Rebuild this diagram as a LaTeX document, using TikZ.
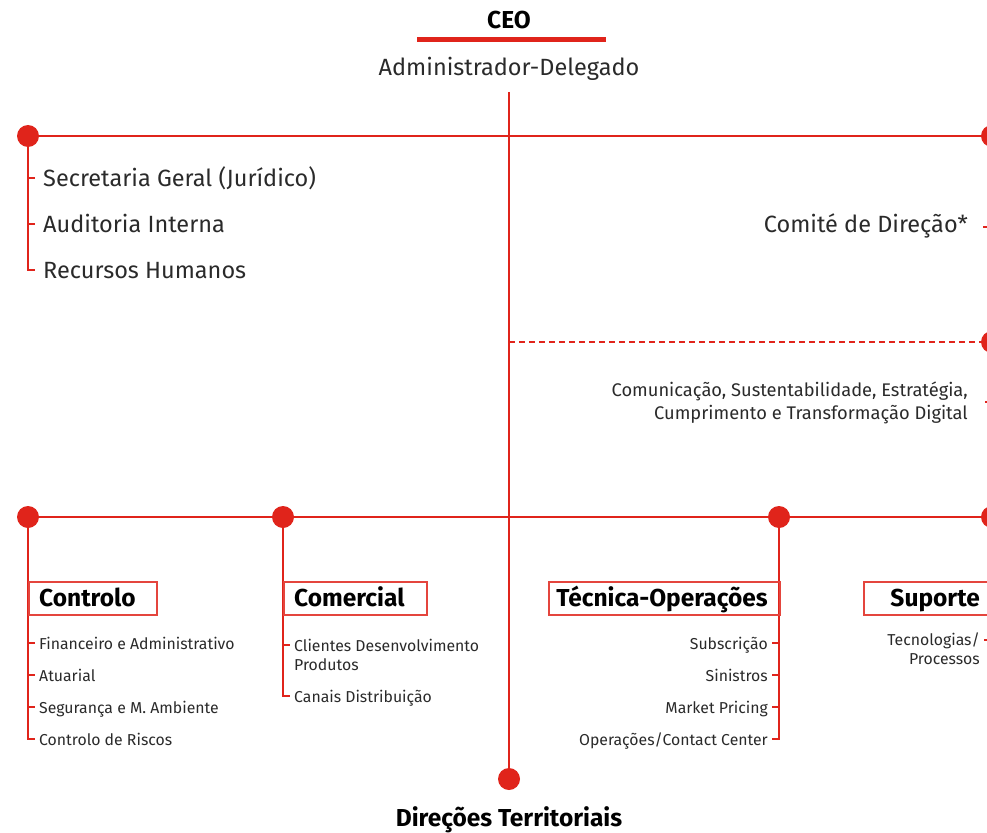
\documentclass[tikz,border=0pt]{standalone}
\usepackage{fontspec}
\setmainfont{Fira Sans}
\definecolor{ored}{HTML}{E0241B}
\definecolor{obox}{HTML}{E4453D}
\definecolor{otxt}{HTML}{2A2A2A}
\begin{document}
\begin{tikzpicture}[x=1pt,y=-1pt,
 ln/.style={ored, line width=1.3pt},
 dot/.style={circle, fill=ored, inner sep=0pt, minimum size=22pt},
 big/.style={font=\fontsize{23.5}{28}\selectfont, text=otxt, inner sep=0pt},
 small/.style={font=\fontsize{15.8}{19}\selectfont, text=otxt, inner sep=0pt, align=left},
 smallr/.style={font=\fontsize{15.8}{19}\selectfont, text=otxt, inner sep=0pt, align=right},
 comm/.style={font=\fontsize{18.3}{22}\selectfont, text=otxt, inner sep=0pt},
 head/.style={font=\bfseries\fontsize{24.5}{28}\selectfont, text=black, inner sep=0pt},
 hbox/.style={draw=obox, line width=1.5pt, inner sep=0pt, minimum height=33pt, anchor=north west}]
\useasboundingbox (0,0) rectangle (987,832);
\clip (0,0) rectangle (987,832);
% CEO
\node[head] (ceo) at (509,20) {CEO};
\fill[ored] (417,37.5) rectangle (606,42.5);
\node[big, anchor=mid] (adm) at (509,73) {Administrador-Delegado};
% main vertical
\coordinate (mtop) at (509,92);
\node[dot] (dbot) at (509,779) {};
\draw[ln] (mtop) -- (dbot);
\node[head, anchor=base] (dt) at (509,826) {Direções Territoriais};
% top row
\node[dot] (d1) at (28,136) {};
\node[dot] (d2) at (992,136) {};
\draw[ln] (d1) -- (d2);
\coordinate (c1) at (28,270);
\draw[ln] (d1) -- (c1) -- (35,270);
\draw[ln] (28,178) -- (35,178);
\draw[ln] (28,224) -- (35,224);
\node[big, anchor=mid west] (sg) at (43,184) {Secretaria Geral (Jurídico)};
\node[big, anchor=mid west] (ai) at (43,230) {Auditoria Interna};
\node[big, anchor=mid west] (rh) at (43,276) {Recursos Humanos};
\node[big, anchor=mid east] (cd) at (968,230) {Comité de Direção*};
\draw[ln] (983,227) -- (992,227);
% dashed
\coordinate (mdash) at (509,342);
\node[dot] (d3) at (992,342) {};
\draw[ln, dash pattern=on 6pt off 4pt] (mdash) -- (d3);
\node[comm, anchor=mid east] (com1) at (968,394) {Comunicação, Sustentabilidade, Estratégia,};
\node[comm, anchor=mid east] (com2) at (968,417) {Cumprimento e Transformação Digital};
\draw[ln] (985,402) -- (992,402);
% bottom row
\node[dot] (b1) at (28,517) {};
\node[dot] (b2) at (283,517) {};
\node[dot] (b3) at (779,517) {};
\node[dot] (b4) at (992,517) {};
\draw[ln] (b1) -- (b4);
% Controlo
\draw[ln] (b1) -- (28,739) -- (35,739);
\foreach \yy in {643,675,707} \draw[ln] (28,\yy) -- (35,\yy);
\node[hbox, minimum width=128pt] (bx1) at (28,581) {};
\node[head, anchor=base west] (h1) at (39,606) {Controlo};
\node[small, anchor=mid west] (i11) at (39,647) {Financeiro e Administrativo};
\node[small, anchor=mid west] (i12) at (39,679) {Atuarial};
\node[small, anchor=mid west] (i13) at (39,711) {Segurança e M. Ambiente};
\node[small, anchor=mid west] (i14) at (39,743) {Controlo de Riscos};
% Comercial
\draw[ln] (b2) -- (283,696) -- (290,696);
\draw[ln] (283,645) -- (290,645);
\node[hbox, minimum width=143pt] (bx2) at (283,581) {};
\node[head, anchor=base west] (h2) at (294,606) {Comercial};
\node[small, anchor=mid west] (i21a) at (294,649) {Clientes Desenvolvimento};
\node[small, anchor=mid west] (i21b) at (294,668) {Produtos};
\node[small, anchor=mid west] (i22) at (294,700) {Canais Distribuição};
% Tecnica-Operacoes
\draw[ln] (b3) -- (779,739) -- (772,739);
\foreach \yy in {643,675,707} \draw[ln] (779,\yy) -- (772,\yy);
\node[hbox, minimum width=231pt] (bx3) at (548,581) {};
\node[head, anchor=base] (h3) at (662,606) {Técnica-Operações};
\node[smallr, anchor=mid east] (i31) at (768,647) {Subscrição};
\node[smallr, anchor=mid east] (i32) at (768,679) {Sinistros};
\node[smallr, anchor=mid east] (i33) at (768,711) {Market Pricing};
\node[smallr, anchor=mid east] (i34) at (768,743) {Operações/Contact Center};
% Suporte
\node[hbox, minimum width=140pt] (bx4) at (863,581) {};
\node[head, anchor=base east] (h4) at (980,606) {Suporte};
\node[smallr, anchor=mid east] (i41a) at (980,643) {Tecnologias/};
\node[smallr, anchor=mid east] (i41b) at (980,662) {Processos};
\draw[ln] (984,640) -- (992,640);
\end{tikzpicture}
\end{document}
